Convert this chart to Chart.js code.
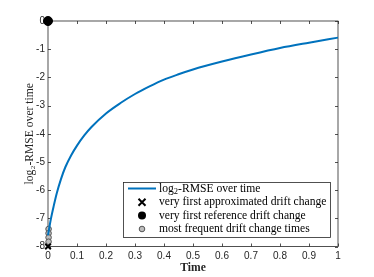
<!DOCTYPE html>
<html>
<head>
<meta charset="utf-8">
<script src="https://cdn.jsdelivr.net/npm/chart.js@4.4.0/dist/chart.umd.min.js"></script>
<style>
  html, body { margin: 0; padding: 0; background: #fff; }
  #wrap { width: 374px; height: 277px; }
</style>
</head>
<body>
<div id="wrap"><canvas id="myChart" width="374" height="277"></canvas></div>
<script>
/*----------------------------------------------------------------------------*/
/* Data                                                                       */
/*----------------------------------------------------------------------------*/
const time_values = [0, 0.005, 0.01, 0.02, 0.03, 0.045, 0.06, 0.08, 0.1, 0.125, 0.15, 0.2,
    0.25, 0.3, 0.35, 0.4, 0.45, 0.5, 0.6, 0.7, 0.8, 0.9, 1.0];
const rmse_values = [-7.6, -7.3, -7.02, -6.55, -6.12, -5.6, -5.18, -4.76, -4.42, -4.06, -3.76, -3.28,
    -2.91, -2.59, -2.32, -2.08, -1.89, -1.72, -1.44, -1.19, -0.96, -0.77, -0.59];

const approx_change = [{x: 0, y: -8}];
const reference_change = [{x: 0, y: 0}];
const frequent_change_times = [0.002, 0.002, 0.002, 0.002];
const frequent_change_values = [-7.38, -7.53, -7.68, -7.83];

const x_ticks = [0, 0.1, 0.2, 0.3, 0.4, 0.5, 0.6, 0.7, 0.8, 0.9, 1];
const y_ticks = [-8, -7, -6, -5, -4, -3, -2, -1, 0];

const legend_labels = [
    ["log", "2", "-RMSE over time"],
    ["very first approximated drift change"],
    ["very first reference drift change"],
    ["most frequent drift change times"]
];

const axis_color = "#262626";
const serif = "'Liberation Serif', serif";
const sans = "'Liberation Sans', Arial, sans-serif";
const serif_size = 11.6;

/*----------------------------------------------------------------------------*/
/* Plugins                                                                    */
/*----------------------------------------------------------------------------*/
// matlab style box with ticks pointing inwards on every side
const box_plugin = {
    id: "box_plugin",
    beforeDatasetsDraw(chart) {
        const {ctx, chartArea: a, scales: {x, y}} = chart;
        ctx.save();
        ctx.strokeStyle = axis_color;
        ctx.lineWidth = 0.8;
        ctx.strokeRect(a.left, a.top, a.right - a.left, a.bottom - a.top);
        const tl = 3;
        ctx.beginPath();
        for (const v of x_ticks) {
            const px = Math.round(x.getPixelForValue(v)) + 0.5;
            ctx.moveTo(px, a.bottom); ctx.lineTo(px, a.bottom - tl);
            ctx.moveTo(px, a.top); ctx.lineTo(px, a.top + tl);
        }
        for (const v of y_ticks) {
            const py = Math.round(y.getPixelForValue(v)) + 0.5;
            ctx.moveTo(a.left, py); ctx.lineTo(a.left + tl, py);
            ctx.moveTo(a.right, py); ctx.lineTo(a.right - tl, py);
        }
        ctx.stroke();
        ctx.restore();
    }
};

function draw_label(ctx, parts, x, y) {
    ctx.font = `${serif_size}px ${serif}`;
    ctx.fillText(parts[0], x, y);
    if (parts.length > 1) {
        let w = ctx.measureText(parts[0]).width;
        ctx.font = `8.5px ${serif}`;
        ctx.fillText(parts[1], x + w, y + 3);
        w += ctx.measureText(parts[1]).width;
        ctx.font = `${serif_size}px ${serif}`;
        ctx.fillText(parts[2], x + w, y);
    }
}

const legend_plugin = {
    id: "legend_plugin",
    afterDatasetsDraw(chart) {
        const ctx = chart.ctx;
        const bx = 123, by = 182, bw = 207, bh = 55;
        ctx.save();
        ctx.fillStyle = "#fff";
        ctx.fillRect(bx, by, bw, bh);
        ctx.strokeStyle = axis_color;
        ctx.lineWidth = 0.8;
        ctx.strokeRect(bx + 0.5, by + 0.5, bw, bh);

        const row_y = [188.5, 202.3, 215.5, 229];
        const sx = 142;
        // line
        ctx.strokeStyle = "#0072BD";
        ctx.lineWidth = 2;
        ctx.beginPath();
        ctx.moveTo(128, row_y[0]); ctx.lineTo(156, row_y[0]);
        ctx.stroke();
        // cross
        ctx.strokeStyle = "#000";
        ctx.lineWidth = 2;
        ctx.beginPath();
        ctx.moveTo(sx - 3.5, row_y[1] - 3.5); ctx.lineTo(sx + 3.5, row_y[1] + 3.5);
        ctx.moveTo(sx + 3.5, row_y[1] - 3.5); ctx.lineTo(sx - 3.5, row_y[1] + 3.5);
        ctx.stroke();
        // black dot
        ctx.fillStyle = "#000";
        ctx.beginPath();
        ctx.arc(sx, row_y[2], 4, 0, Math.PI * 2);
        ctx.fill();
        // gray circle
        ctx.fillStyle = "#bdbdbd";
        ctx.strokeStyle = "#555";
        ctx.lineWidth = 1;
        ctx.beginPath();
        ctx.arc(sx, row_y[3], 2.8, 0, Math.PI * 2);
        ctx.fill();
        ctx.stroke();

        ctx.fillStyle = "#000";
        ctx.textBaseline = "middle";
        ctx.textAlign = "left";
        for (let i = 0; i < legend_labels.length; i++) {
            draw_label(ctx, legend_labels[i], 159, row_y[i]);
        }
        ctx.restore();
    }
};

/*----------------------------------------------------------------------------*/
/* Chart                                                                      */
/*----------------------------------------------------------------------------*/
const curve = time_values.map((t, i) => ({x: t, y: rmse_values[i]}));
const frequent = frequent_change_times.map((t, i) => ({x: t, y: frequent_change_values[i]}));

const config = {
    type: "scatter",
    data: {
        datasets: [{
            label: "log2-RMSE over time",
            data: curve,
            showLine: true,
            borderColor: "#0072BD",
            borderWidth: 2,
            pointRadius: 0,
            cubicInterpolationMode: "monotone",
            clip: false
        }, {
            label: "very first approximated drift change",
            data: approx_change,
            pointStyle: "crossRot",
            pointRadius: 4,
            borderColor: "#000",
            borderWidth: 2,
            clip: false
        }, {
            label: "very first reference drift change",
            data: reference_change,
            pointStyle: "circle",
            pointRadius: 4.5,
            backgroundColor: "#000",
            borderColor: "#000",
            clip: false
        }, {
            label: "most frequent drift change times",
            data: frequent,
            pointStyle: "circle",
            pointRadius: 2.8,
            backgroundColor: "#bdbdbd",
            borderColor: "#555",
            borderWidth: 1,
            clip: false
        }]
    },
    options: {
        responsive: false,
        animation: false,
        layout: { padding: { top: 21, right: 36, left: 0, bottom: 0 } },
        plugins: {
            legend: { display: false },
            tooltip: { enabled: false }
        },
        scales: {
            x: {
                type: "linear",
                min: 0, max: 1,
                grid: { display: false, drawTicks: false },
                border: { display: false },
                afterBuildTicks: (s) => { s.ticks = x_ticks.map(v => ({value: v})); },
                afterFit: (s) => { s.height = 30.5; },
                ticks: {
                    color: axis_color,
                    font: { family: sans, size: 10 },
                    padding: 4,
                    maxRotation: 0,
                    callback: (v) => String(v)
                },
                title: {
                    display: true,
                    text: "Time",
                    color: axis_color,
                    font: { family: serif, size: serif_size, weight: "bold" },
                    padding: { top: 0, bottom: 2 }
                }
            },
            y: {
                type: "linear",
                min: -8, max: 0,
                grid: { display: false, drawTicks: false },
                border: { display: false },
                afterBuildTicks: (s) => { s.ticks = y_ticks.map(v => ({value: v})); },
                afterFit: (s) => { s.width = 48; },
                ticks: {
                    color: axis_color,
                    font: { family: sans, size: 10 },
                    padding: 3,
                    callback: (v) => String(v)
                },
                title: {
                    display: true,
                    text: "log\u2082-RMSE over time",
                    color: axis_color,
                    font: { family: serif, size: serif_size },
                    padding: { top: 23, bottom: 0 }
                }
            }
        }
    },
    plugins: [box_plugin, legend_plugin]
};

const chart_tag = document.getElementById("myChart");
const my_chart = new Chart(chart_tag.getContext("2d"), config);
</script>
</body>
</html>
